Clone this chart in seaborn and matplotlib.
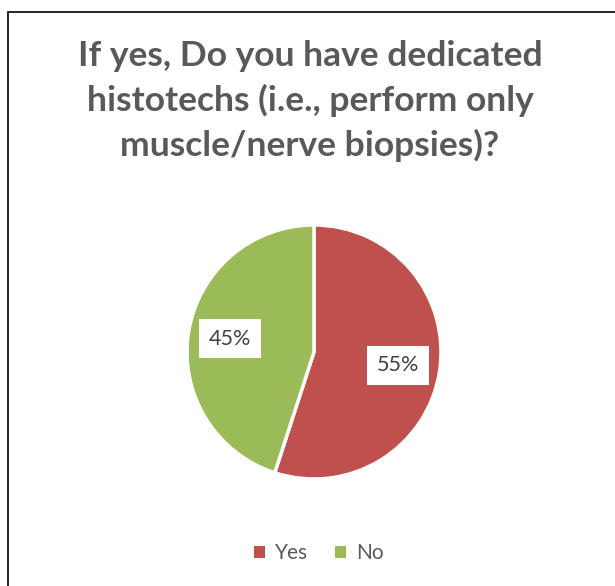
import matplotlib
matplotlib.use("Agg")
import matplotlib.pyplot as plt
import seaborn as sns
from matplotlib.patches import Rectangle, Patch

categories = ["Yes", "No"]
values = [55, 45]
title_lines = ["If yes, Do you have dedicated",
               "histotechs (i.e., perform only",
               "muscle/nerve biopsies)?"]

sns.set_theme(style="white")
plt.rcParams['font.family'] = ['Lato', 'DejaVu Sans']
colors = sns.color_palette(["#C0504D", "#9BBB59"])

W, H = 615, 586
fig = plt.figure(figsize=(W / 100, H / 100), dpi=100)
fig.patch.set_facecolor("white")

cx, cy, r = 314, 352, 127
ax = fig.add_axes([(cx - r) / W, (H - cy - r) / H, 2 * r / W, 2 * r / H])
wedges, texts, autotexts = ax.pie(
    values, colors=colors, startangle=90, counterclock=False,
    autopct=lambda p: f"{p:.0f}%", pctdistance=0.67,
    wedgeprops=dict(edgecolor="white", linewidth=2.5),
    textprops=dict(color="#404040", fontsize=15.5))
for t in autotexts:
    t.set_bbox(dict(facecolor="white", edgecolor="none", pad=7))
ax.set_xlim(-1, 1)
ax.set_ylim(-1, 1)
ax.set_aspect("equal")
ax.axis("off")

fig.text(310 / W, 1 - 101 / H, "\n".join(title_lines), ha="center", va="center",
         fontsize=25.5, fontweight="bold", color="#595959", linespacing=1.42)

handles = [Patch(facecolor=c, edgecolor="none", label=l) for c, l in zip(colors, categories)]
fig.legend(handles=handles, loc="center", bbox_to_anchor=(319 / W, 1 - 553 / H),
           ncol=2, frameon=False, fontsize=15, handlelength=0.5, handleheight=0.5,
           handletextpad=0.5, columnspacing=1.3, labelcolor="#595959")

fig.patches.append(Rectangle((8 / W, -0.1), 1.2, 1 - 12 / H + 0.1, transform=fig.transFigure,
                             fill=False, edgecolor="black", linewidth=1.2))

fig.savefig("out.png", dpi=100)
